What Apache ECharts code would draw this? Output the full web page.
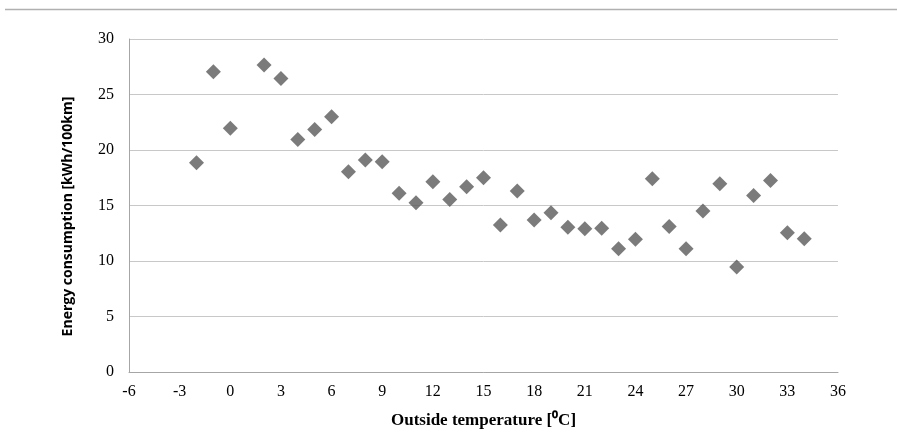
<!DOCTYPE html>
<html>
<head>
<meta charset="utf-8">
<script src="https://cdn.jsdelivr.net/npm/echarts@6/dist/echarts.min.js"></script>
<style>
html,body{margin:0;padding:0;background:#fff;}
#c{width:897px;height:441px;}
</style>
</head>
<body>
<div id="c"></div>
<script>
const temperatures = [-2, -1, 0, 2, 3, 4, 5, 6, 7, 8, 9, 10, 11, 12, 13, 14, 15, 16, 17, 18, 19, 20, 21, 22, 23, 24, 25, 26, 27, 28, 29, 30, 31, 32, 33, 34];
const consumption = [18.85, 27.05, 21.95, 27.65, 26.45, 20.95, 21.85, 23.0, 18.05, 19.1, 18.95, 16.1, 15.25, 17.15, 15.55, 16.7, 17.5, 13.25, 16.3, 13.7, 14.35, 13.05, 12.9, 12.95, 11.1, 11.95, 17.4, 13.1, 11.1, 14.5, 16.95, 9.45, 15.9, 17.25, 12.55, 12.0];
const xTicks = {min: -6, max: 36, interval: 3};
const yTicks = {min: 0, max: 30, interval: 5};

const points = temperatures.map((t, i) => [t, consumption[i]]);
const chart = echarts.init(document.getElementById('c'), null, {renderer: 'canvas'});
chart.setOption({
  animation: false,
  backgroundColor: '#ffffff',
  graphic: [{
    type: 'line',
    shape: {x1: 5, y1: 9.5, x2: 897, y2: 9.5},
    style: {stroke: '#b0b0b0', lineWidth: 1.5}
  }],
  grid: {left: 129, right: 59, top: 39, bottom: 69},
  xAxis: {
    type: 'value',
    min: xTicks.min, max: xTicks.max, interval: xTicks.interval,
    name: 'Outside temperature [\u2070C]',
    nameLocation: 'middle',
    nameGap: 40,
    nameTextStyle: {fontFamily: 'Liberation Serif', fontWeight: 'bold', fontSize: 17, color: '#000'},
    axisLine: {show: true, onZero: false, lineStyle: {color: '#a6a6a6', width: 1}},
    axisTick: {show: false},
    splitLine: {show: false},
    axisLabel: {fontFamily: 'Liberation Serif', fontSize: 16, color: '#000', margin: 12}
  },
  yAxis: {
    type: 'value',
    min: yTicks.min, max: yTicks.max, interval: yTicks.interval,
    name: 'Energy consumption [kWh/100km]',
    nameLocation: 'middle',
    nameGap: 54,
    nameTextStyle: {fontFamily: 'Open Sans', fontWeight: 'bold', fontSize: 14, color: '#000', padding: [0, 22, 0, 0]},
    axisLine: {show: true, onZero: false, lineStyle: {color: '#a6a6a6', width: 1}},
    axisTick: {show: false},
    splitLine: {show: true, lineStyle: {color: '#c8c8c8', width: 1}},
    axisLabel: {fontFamily: 'Liberation Serif', fontSize: 16, color: '#000', margin: 15}
  },
  series: [{
    type: 'scatter',
    data: points,
    symbol: 'diamond',
    symbolSize: 15,
    itemStyle: {color: '#5a5a5a'}
  }]
});
</script>
</body>
</html>
